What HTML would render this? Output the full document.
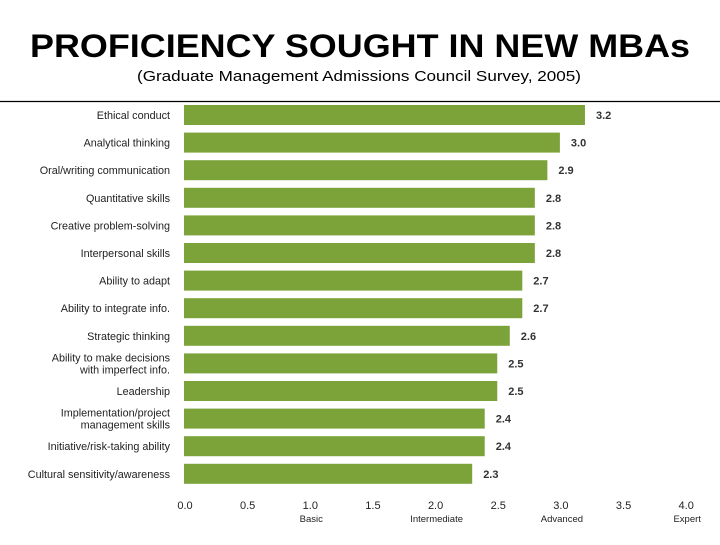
<!DOCTYPE html>
<html><head><meta charset="utf-8"><style>
body{margin:0;background:#fff;width:720px;height:540px;overflow:hidden;font-family:"Liberation Sans",sans-serif}
</style></head><body>
<svg width="720" height="540" id="svg">
<text x="360" y="57" text-anchor="middle" font-size="32" font-weight="bold" font-family="Liberation Sans" textLength="660" lengthAdjust="spacingAndGlyphs">PROFICIENCY SOUGHT IN NEW MBAs</text>
<text x="359" y="81" text-anchor="middle" font-size="15" font-family="Liberation Sans" textLength="444" lengthAdjust="spacingAndGlyphs">(Graduate Management Admissions Council Survey, 2005)</text>
<line x1="0" y1="101.5" x2="720" y2="101.5" stroke="#000" stroke-width="1.2"/>
<g id="plot"></g>
</svg>
<script>
const categories=[["Ethical conduct"],["Analytical thinking"],["Oral/writing communication"],["Quantitative skills"],["Creative problem-solving"],["Interpersonal skills"],["Ability to adapt"],["Ability to integrate info."],["Strategic thinking"],["Ability to make decisions","with imperfect info."],["Leadership"],["Implementation/project","management skills"],["Initiative/risk-taking ability"],["Cultural sensitivity/awareness"]];
const values=[3.2,3.0,2.9,2.8,2.8,2.8,2.7,2.7,2.6,2.5,2.5,2.4,2.4,2.3];
const valueLabels=["3.2","3.0","2.9","2.8","2.8","2.8","2.7","2.7","2.6","2.5","2.5","2.4","2.4","2.3"];
const ticks=[0,0.5,1,1.5,2,2.5,3,3.5,4];
const tickLabels=["0.0","0.5","1.0","1.5","2.0","2.5","3.0","3.5","4.0"];
const levelValues=[1,2,3,4];
const levelLabels=["Basic","Intermediate","Advanced","Expert"];
const NS="http://www.w3.org/2000/svg";
const g=document.getElementById('plot');
const x=v=>184+v*125.3;
const y=i=>115+i*27.6;
function mk(t,a,txt){const e=document.createElementNS(NS,t);for(const k in a)e.setAttribute(k,a[k]);if(txt!=null)e.textContent=txt;g.appendChild(e);return e;}
values.forEach((v,i)=>{
  const r=mk('rect',{x:x(0),y:y(i)-10,width:x(v)-x(0),height:20,fill:'#7ba33a'});
  
  
  const t=mk('text',{x:x(v)+11,y:y(i)+4,'font-size':11,'font-weight':'bold',fill:'#333','font-family':'Liberation Sans'},valueLabels[i]);
  
  
  const lines=categories[i];
  lines.forEach((ln,j)=>{
    const yy=lines.length==1?y(i)+4:y(i)-2+j*12;
    const c=mk('text',{x:170,y:yy,'text-anchor':'end','font-size':10.8,fill:'#222','font-family':'Liberation Sans'},ln);
    
    
  });
});
ticks.forEach((v,i)=>{
  const t=mk('text',{x:x(v)+1,y:509,'text-anchor':'middle','font-size':11,fill:'#222','font-family':'Liberation Sans'},tickLabels[i]);
  
  
});
levelValues.forEach((v,i)=>{
  const t=mk('text',{x:x(v)+2,y:522,'text-anchor':'middle','font-size':9.5,fill:'#222','font-family':'Liberation Sans'},levelLabels[i]);
  
  
});
</script>
</body></html>
